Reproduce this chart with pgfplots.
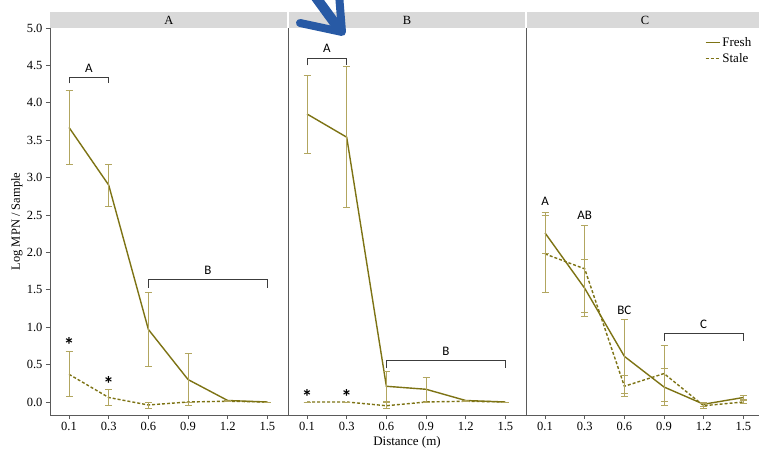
\documentclass[border=0pt]{standalone}
\usepackage{fontspec}
\setmainfont{Liberation Serif}
\newfontfamily\lettfont{Carlito}
\usepackage{pgfplots}
\usepackage{pgfplotstable}
\pgfplotsset{compat=1.18}
\definecolor{freshc}{RGB}{125,115,20}
\definecolor{errc}{RGB}{178,166,96}
\definecolor{axgray}{RGB}{90,90,90}
\definecolor{hdrgray}{RGB}{217,217,217}
\definecolor{brgray}{RGB}{60,60,60}
\definecolor{arrowblue}{RGB}{40,90,165}

\pgfplotstableread{
x y e
0 3.67 0.50
1 2.90 0.28
2 0.97 0.50
3 0.30 0.35
4 0.02 0.00
5 0.00 0.00
}\AFresh
\pgfplotstableread{
x y e
0 0.37 0.30
1 0.06 0.11
2 -0.04 0.04
3 0.00 0.00
4 0.01 0.00
5 0.00 0.00
}\AStale
\pgfplotstableread{
x y e
0 3.85 0.52
1 3.54 0.94
2 0.21 0.20
3 0.17 0.16
4 0.02 0.00
5 0.00 0.00
}\BFresh
\pgfplotstableread{
x y e
0 0.00 0.00
1 0.00 0.00
2 -0.05 0.04
3 0.00 0.00
4 0.01 0.00
5 0.00 0.00
}\BStale
\pgfplotstableread{
x y e
0 2.26 0.28
1 1.52 0.38
2 0.61 0.50
3 0.20 0.25
4 -0.03 0.03
5 0.06 0.03
}\CFresh
\pgfplotstableread{
x y e
0 1.98 0.51
1 1.78 0.58
2 0.21 0.14
3 0.38 0.37
4 -0.05 0.03
5 0.00 0.02
}\CStale

\pgfplotsset{
  panel/.style={
    scale only axis, width=238pt, height=387pt,
    xmin=-0.48, xmax=5.52, ymin=-0.174, ymax=5.0,
    axis x line*=bottom, axis y line*=left,
    xtick={0,...,5}, xticklabels={0.1,0.3,0.6,0.9,1.2,1.5},
    tick align=outside, major tick length=4pt,
    axis line style={color=axgray, line width=0.9pt},
    tick style={color=axgray, line width=0.8pt},
    ticklabel style={font=\fontsize{12.5}{14}\selectfont},
    /pgf/number format/assume math mode=true,
    clip=false,
  },
  fresh/.style={color=freshc, line width=1.4pt,
    error bars/.cd, y dir=both, y explicit, error mark=-,
    error bar style={color=errc, line width=0.8pt, solid},
    error mark options={rotate=90, color=errc, line width=0.8pt, mark size=3.5pt, solid}},
  stale/.style={color=freshc, line width=1.4pt, dash pattern=on 3pt off 2pt,
    error bars/.cd, y dir=both, y explicit, error mark=-,
    error bar style={color=errc, line width=0.8pt, solid},
    error mark options={rotate=90, color=errc, line width=0.8pt, mark size=3.5pt, solid}},
}
\tikzset{
  br/.style={draw=brgray, line width=0.8pt},
  lett/.style={font=\lettfont\fontsize{13}{15}\selectfont, text=black},
  star/.style={font=\lettfont\bfseries\fontsize{21}{22}\selectfont, text=black, inner sep=0pt},
  hdr/.style={font=\fontsize{12.5}{14}\selectfont},
}

\begin{document}
\begin{tikzpicture}
\useasboundingbox (0pt,0pt) rectangle (759pt,450pt);

% Panel A
\begin{axis}[panel, at={(50pt,35pt)}, anchor=south west,
  ytick={0,0.5,...,5.0},
  yticklabel style={/pgf/number format/.cd, fixed, fixed zerofill, precision=1},
  ylabel={Log MPN / Sample},
  every axis y label/.style={at={(rel axis cs:0,0.5)}, xshift=-33pt, rotate=90, anchor=center, font=\fontsize{12.5}{14}\selectfont},
]
\fill[hdrgray] (rel axis cs:0,1) rectangle ([xshift=-0.6pt,yshift=16pt]rel axis cs:1,1);
\node[hdr] at ([yshift=8pt]rel axis cs:0.5,1) {A};
\addplot[fresh] table[x=x,y=y,y error=e]{\AFresh};
\addplot[stale] table[x=x,y=y,y error=e]{\AStale};
\draw[br] (axis cs:0,4.26) -- (axis cs:0,4.34) -- (axis cs:1,4.34) -- (axis cs:1,4.26);
\node[lett] at (axis cs:0.5,4.46) {A};
\draw[br] (axis cs:2,1.53) -- (axis cs:2,1.64) -- (axis cs:5,1.64) -- (axis cs:5,1.53);
\node[lett] at (axis cs:3.5,1.76) {B};
\node[star] at (axis cs:0,0.76) {*};
\node[star] at (axis cs:1,0.24) {*};
\end{axis}

% Panel B
\begin{axis}[panel, at={(288pt,35pt)}, anchor=south west,
  ytick=\empty,
  xlabel={Distance (m)},
  every axis x label/.style={at={(rel axis cs:0.5,0)}, yshift=-27pt, anchor=center, font=\fontsize{13}{15}\selectfont},
]
\fill[hdrgray] ([xshift=0.6pt]rel axis cs:0,1) rectangle ([xshift=-0.6pt,yshift=16pt]rel axis cs:1,1);
\node[hdr] at ([yshift=8pt]rel axis cs:0.5,1) {B};
\addplot[fresh] table[x=x,y=y,y error=e]{\BFresh};
\addplot[stale] table[x=x,y=y,y error=e]{\BStale};
\draw[br] (axis cs:0,4.50) -- (axis cs:0,4.60) -- (axis cs:1,4.60) -- (axis cs:1,4.50);
\node[lett] at (axis cs:0.5,4.73) {A};
\draw[br] (axis cs:2,0.45) -- (axis cs:2,0.56) -- (axis cs:5,0.56) -- (axis cs:5,0.45);
\node[lett] at (axis cs:3.5,0.68) {B};
\node[star] at (axis cs:0,0.07) {*};
\node[star] at (axis cs:1,0.07) {*};
\end{axis}

% Panel C
\begin{axis}[panel, at={(526pt,35pt)}, anchor=south west,
  ytick=\empty,
  legend style={draw=none, fill=none, at={(rel axis cs:0.96,0.985)}, anchor=north east,
    font=\fontsize{13}{15}\selectfont, row sep=2pt, inner sep=1pt},
  legend cell align=left,
  legend image code/.code={\draw[#1, line width=1.4pt] (0pt,0pt) -- (14pt,0pt);},
]
\fill[hdrgray] ([xshift=0.6pt]rel axis cs:0,1) rectangle ([yshift=16pt]rel axis cs:1,1);
\node[hdr] at ([yshift=8pt]rel axis cs:0.5,1) {C};
\addplot[fresh] table[x=x,y=y,y error=e]{\CFresh};
\addlegendentry{Fresh}
\addplot[stale] table[x=x,y=y,y error=e]{\CStale};
\addlegendentry{Stale}
\node[lett] at (axis cs:0,2.68) {A};
\node[lett] at (axis cs:1,2.50) {AB};
\node[lett] at (axis cs:2,1.22) {BC};
\draw[br] (axis cs:3,0.81) -- (axis cs:3,0.92) -- (axis cs:5,0.92) -- (axis cs:5,0.81);
\node[lett] at (axis cs:4,1.04) {C};
\end{axis}

% annotation arrow
\draw[arrowblue, line width=10pt, line cap=round] (312pt,458pt) -- (339pt,421pt);
\draw[arrowblue, line width=8pt, line cap=round, line join=round] (300pt,427pt) -- (342pt,418pt) -- (339pt,456pt);
\end{tikzpicture}
\end{document}
